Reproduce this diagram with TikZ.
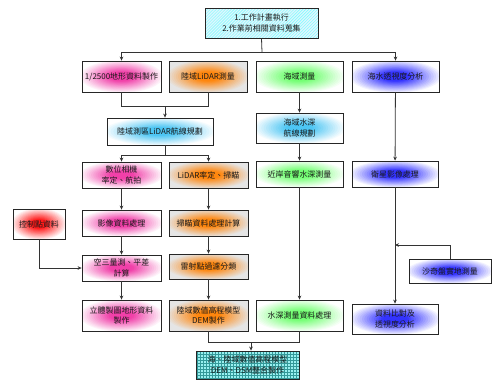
\documentclass[tikz,border=0pt]{standalone}
\usepackage{fontspec}
\setmainfont{Noto Sans CJK TC}
\usetikzlibrary{shadows,patterns,arrows.meta}

\tikzset{
  box/.style={draw=black!85, line width=0.8bp, inner sep=1bp, align=center,
    font=\fontsize{8}{10.5}\selectfont, text=black!90},
  shadowed/.style={drop shadow={shadow xshift=1.3bp, shadow yshift=-1.3bp, fill=black!40, opacity=1}},
  ln/.style={line width=0.8bp, draw=black!80},
  arr/.style={ln, -{Stealth[length=4bp,width=3.6bp]}},
}

% a box with a soft elliptic glow: name, x, y, width, height, glow colour, base colour, text
\newcommand\glowbox[8]{%
  \begin{scope}[shift={(#2,#3)}]
    \fill[black!40] ({-#4/2+1.3},{-#5/2-1.3}) rectangle ({#4/2+1.3},{#5/2-1.3});
    \fill[#7] ({-#4/2},{-#5/2}) rectangle ({#4/2},{#5/2});
    \begin{scope}
      \clip ({-#4/2},{-#5/2}) rectangle ({#4/2},{#5/2});
      \foreach \k in {0,...,18}{
        \pgfmathsetmacro\rf{0.55*(1-\k/20)}
        \pgfmathsetmacro\pc{min(100,\k*7)}
        \fill[#6!\pc!#7] (0,0) ellipse ({#4*\rf} and {#5*\rf});
      }
    \end{scope}
  \end{scope}
  \node[box, minimum width=#4bp, minimum height=#5bp] (#1) at (#2,#3) {#8};
}

\colorlet{gmag}{magenta!75}
\colorlet{gora}{orange!95}
\colorlet{ggrn}{green!55}
\colorlet{gblu}{blue!80}
\colorlet{gcyn}{cyan!70}
\colorlet{gred}{red!90}
\colorlet{gbase}{black!10}

\begin{document}
\begin{tikzpicture}[x=1bp, y=1bp]
\useasboundingbox (0,0) rectangle (494,-381);

% start of the work
\node[box, shadowed, preaction={fill=cyan!12}, pattern=north east lines, pattern color=cyan!55,
      minimum width=113bp, minimum height=30bp] (top) at (261.5,-23)
  {1.工作計畫執行\\2.作業前相關資料蒐集};

% first row
\glowbox{b1}{121.5}{-76.5}{79}{31}{gmag}{white}{1/2500地形資料製作}
\glowbox{b2}{208}{-76.5}{78}{31}{gora}{gbase}{陸域LiDAR測量}
\glowbox{b3}{299.5}{-76.5}{87}{31}{ggrn}{white}{海域測量}
\glowbox{b4}{395.5}{-76.5}{87}{31}{gblu}{white}{海水透視度分析}

% land LiDAR planning
\glowbox{plan}{160}{-131.5}{106}{27}{gcyn}{white}{陸域測區LiDAR航線規劃}

% sea branch
\glowbox{seaplan}{299.5}{-128}{87}{30}{gcyn}{white}{海域水深\\航線規劃}
\glowbox{sonar}{299.5}{-174}{87}{26}{ggrn}{white}{近岸音響水深測量}
\glowbox{sat}{395}{-174}{86}{26}{gblu}{white}{衛星影像處理}

% land branch
\glowbox{cam}{121.5}{-175}{79}{26}{gmag}{white}{數位相機\\率定、航拍}
\glowbox{scan}{208.5}{-175}{79}{26}{gora}{gbase}{LiDAR率定、掃瞄}
\glowbox{img}{121.5}{-223}{79}{26}{gmag}{white}{影像資料處理}
\glowbox{scanproc}{208.5}{-223}{79}{26}{gora}{gbase}{掃瞄資料處理計算}
\glowbox{ctrl}{39}{-224}{52}{30}{gred}{white}{控制點資料}
\glowbox{aero}{121.5}{-268}{79}{26}{gmag}{white}{空三量測、平差\\計算}
\glowbox{laser}{208.5}{-266.5}{79}{25}{gora}{gbase}{雷射點過濾分類}
\glowbox{stereo}{121.5}{-315.5}{79}{31}{gmag}{white}{立體製圖地形資料\\製作}
\glowbox{dem}{208.5}{-315.5}{79}{31}{gora}{gbase}{陸域數值高程模型\\DEM製作}
\glowbox{watproc}{299.5}{-315.5}{87}{31}{ggrn}{white}{水深測量資料處理}
\glowbox{cmp}{395}{-319}{86}{30}{gblu}{white}{資料比對及\\透視度分析}
\glowbox{secchi}{450}{-271}{82}{24}{gblu}{white}{沙奇盤實地測量}

% merged product
\node[box, shadowed, preaction={fill=teal!30!cyan!40}, pattern=grid, pattern color=teal!80,
      minimum width=103bp, minimum height=28bp] (final) at (247.5,-365)
  {海、陸域數值高程模型\\DEM、DSM整合製作};

% connectors from the start box
\coordinate (j0) at (262,-52);
\draw[ln] (top.south) -- (j0);
\draw[arr] (j0) -| (b1.north);
\draw[arr] (j0) -| (b4.north);

% land survey into LiDAR planning
\coordinate (jA) at (165,-106);
\draw[ln] (b1.south) |- (jA);
\draw[ln] (b2.south) |- (jA);
\draw[arr] (jA) -- (jA |- plan.north);

% LiDAR planning splits into camera and scanning
\coordinate (jB) at (165,-155);
\draw[ln] (jB |- plan.south) -- (jB);
\draw[arr] (jB) -| (cam.north);
\draw[arr] (jB) -| (scan.north);

% land chain
\draw[arr] (cam) -- (img);
\draw[arr] (img) -- (aero);
\draw[arr] (aero) -- (stereo);
\draw[arr] (ctrl.south) |- (aero.west);
\draw[arr] (scan) -- (scanproc);
\draw[arr] (scanproc) -- (laser);
\draw[arr] (laser) -- (dem);

% sea chain
\draw[arr] (b3) -- (seaplan);
\draw[arr] (seaplan) -- (sonar);
\draw[arr] (sonar) -- (watproc);

% transparency chain
\draw[arr] (b4) -- (sat);
\draw[arr] (sat) -- (cmp);
\coordinate (jS) at (cmp.north |- 0,-245);
\draw[arr] (secchi.north) |- (jS);

% merging into the final product
\coordinate (jC) at (251,-342);
\draw[ln] (dem.south) |- (jC);
\draw[ln] (jC) -| (watproc.south);
\draw[arr] (jC) -- (jC |- final.north);
\end{tikzpicture}
\end{document}
